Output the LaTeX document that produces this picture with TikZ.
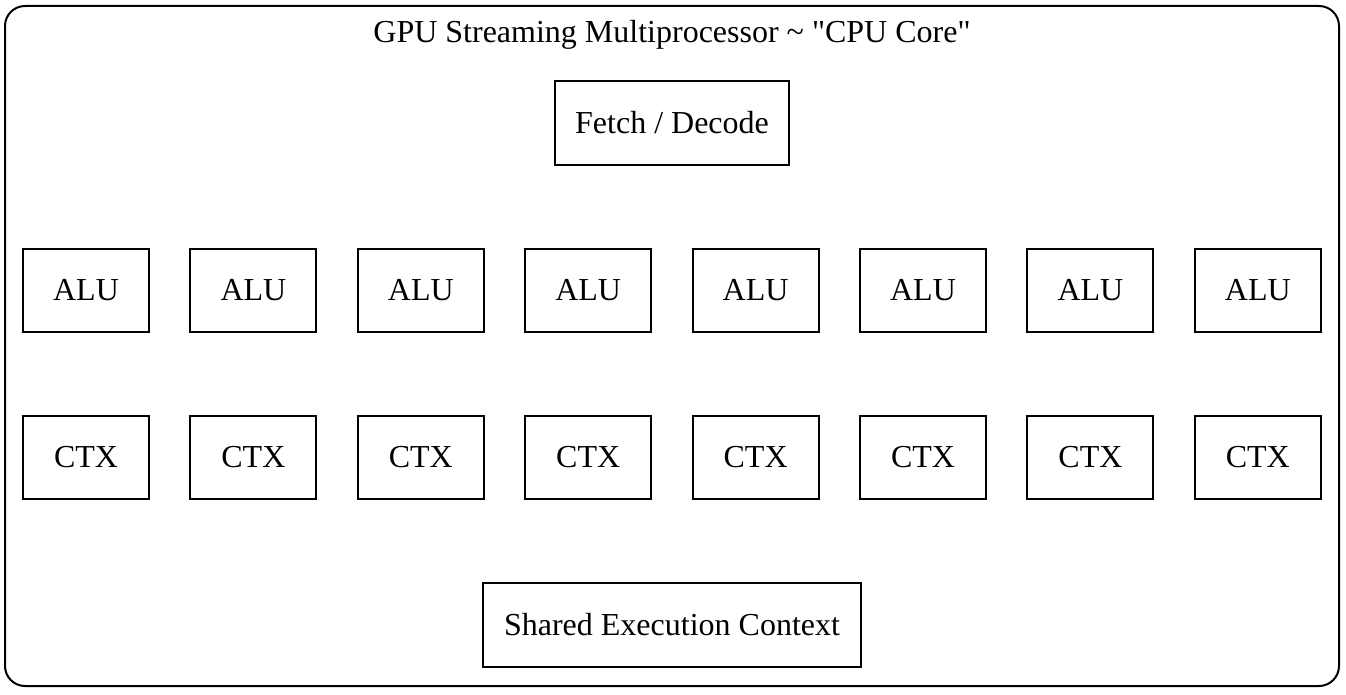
\documentclass[tikz,border=0pt]{standalone}
\usepackage{fontspec}
\setmainfont{Liberation Serif}[Ligatures=TeXOff]
\begin{document}
\begin{tikzpicture}[x=1pt,y=-1pt,line width=2pt,
  every node/.style={font=\fontsize{32}{38}\selectfont},
  unit/.style={draw,minimum width=126pt,minimum height=83pt,inner sep=0pt}]
\useasboundingbox (0,0) rectangle (1346,695);
% streaming multiprocessor frame
\draw[rounded corners=20pt] (5,6) rectangle (1339,686);
\node (title) at (672,35) {GPU Streaming Multiprocessor \textasciitilde{} "CPU Core"};
\node[draw,minimum width=234pt,minimum height=84pt] (fetch) at (672,123) {Fetch / Decode};
% ALU and context rows
\foreach \i in {1,...,8}{
  \node[unit] (alu\i) at ({86+167.4*(\i-1)},290) {ALU};
  \node[unit] (ctx\i) at ({86+167.4*(\i-1)},457.5) {CTX};
}
\node[draw,minimum width=378pt,minimum height=84pt] (shared) at (672,625) {Shared Execution Context};
\end{tikzpicture}
\end{document}
